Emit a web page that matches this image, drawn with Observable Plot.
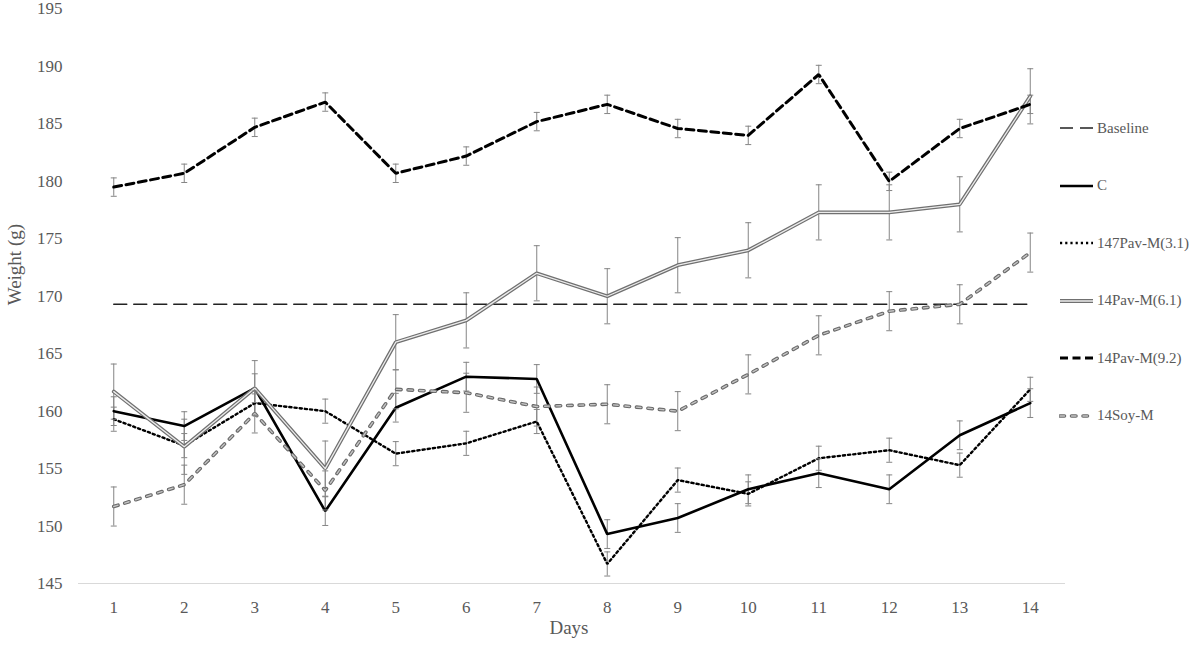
<!DOCTYPE html>
<html>
<head>
<meta charset="utf-8">
<script src="https://cdn.jsdelivr.net/npm/d3@7"></script>
<script src="https://cdn.jsdelivr.net/npm/@observablehq/plot@0.6"></script>
<style>
  html, body { margin: 0; padding: 0; background: #fff; }
  #wrap { position: relative; width: 1192px; height: 645px; font-family: "Liberation Serif", "Times New Roman", serif; }
  #legend { position: absolute; left: 1059px; top: 0; }
  .item { position: absolute; left: 0; display: flex; align-items: center; white-space: nowrap; font-size: 15px; color: #595959; }
  .item svg { display: block; margin-right: 3px; }
</style>
</head>
<body>
<div id="wrap"><div id="chart"></div><div id="legend"></div></div>
<script>
const days = [1,2,3,4,5,6,7,8,9,10,11,12,13,14];
const xTicks = [1,2,3,4,5,6,7,8,9,10,11,12,13,14];
const yTicks = [145,150,155,160,165,170,175,180,185,190,195];

const baseline = [169.3,169.3,169.3,169.3,169.3,169.3,169.3,169.3,169.3,169.3,169.3,169.3,169.3,169.3];
const cVals    = [160.0,158.7,162.0,151.3,160.3,163.0,162.8,149.3,150.7,153.2,154.6,153.2,157.9,160.7];
const pav31    = [159.3,157.0,160.7,160.0,156.3,157.2,159.1,146.7,154.0,152.8,155.9,156.6,155.3,161.9];
const pav61    = [161.7,156.9,162.0,155.0,166.0,167.9,172.0,170.0,172.7,174.0,177.3,177.3,178.0,187.4];
const pav92    = [179.5,180.7,184.7,186.9,180.7,182.2,185.2,186.7,184.6,184.0,189.3,180.0,184.6,186.7];
const soy      = [151.7,153.6,159.8,153.1,161.9,161.6,160.4,160.6,160.0,163.2,166.6,168.7,169.3,173.8];

const errC     = [1.25,1.25,1.25,1.25,1.25,1.25,1.25,1.25,1.25,1.25,1.25,1.25,1.25,1.25];
const err31    = [1.05,1.05,1.05,1.05,1.05,1.05,1.05,1.05,1.05,1.05,1.05,1.05,1.05,1.05];
const err61    = [2.4,2.4,2.4,2.4,2.4,2.4,2.4,2.4,2.4,2.4,2.4,2.4,2.4,2.4];
const err92    = [0.8,0.8,0.8,0.8,0.8,0.8,0.8,0.8,0.8,0.8,0.8,0.8,0.8,0.8];
const errSoy   = [1.7,1.7,1.7,1.7,1.7,1.7,1.7,1.7,1.7,1.7,1.7,1.7,1.7,1.7];

const seriesNames = ["Baseline","C","147Pav-M(3.1)","14Pav-M(6.1)","14Pav-M(9.2)","14Soy-M"];

const toRows = (vals, errs) => days.map((d, i) => ({day: d, v: vals[i], e: errs ? errs[i] : 0}));
const rBase = toRows(baseline);
const rC = toRows(cVals, errC);
const r31 = toRows(pav31, err31);
const r61 = toRows(pav61, err61);
const r92 = toRows(pav92, err92);
const rSoy = toRows(soy, errSoy);
const errRows = [...rC, ...r31, ...r61, ...r92, ...rSoy];

const capSymbol = {
  draw(ctx, size) {
    const r = Math.sqrt(size / Math.PI);
    ctx.moveTo(-r, 0);
    ctx.lineTo(r, 0);
  }
};
const ebColor = "#858585";

const styles = {
  "Baseline": [{stroke: "#222", strokeWidth: 1.5, strokeDasharray: "13,7"}],
  "C": [{stroke: "#000", strokeWidth: 2.6}],
  "147Pav-M(3.1)": [{stroke: "#000", strokeWidth: 2.4, strokeDasharray: "2.2,3"}],
  "14Pav-M(6.1)": [{stroke: "#707070", strokeWidth: 3.8}, {stroke: "#ececec", strokeWidth: 1.3}],
  "14Pav-M(9.2)": [{stroke: "#000", strokeWidth: 3, strokeDasharray: "8,4.5"}],
  "14Soy-M": [{stroke: "#6a6a6a", strokeWidth: 3.6, strokeDasharray: "4.5,7", strokeLinecap: "round"},
              {stroke: "#c4c4c4", strokeWidth: 1.4, strokeDasharray: "4.5,7", strokeLinecap: "round"}]
};
const seriesRows = {
  "Baseline": rBase, "C": rC, "147Pav-M(3.1)": r31, "14Pav-M(6.1)": r61, "14Pav-M(9.2)": r92, "14Soy-M": rSoy
};

const lineMarks = [];
for (const name of seriesNames) {
  for (const st of styles[name]) {
    lineMarks.push(Plot.line(seriesRows[name], {x: "day", y: "v", strokeLinejoin: "miter", ...st}));
  }
}

const chart = Plot.plot({
  width: 1192,
  height: 645,
  marginLeft: 78,
  marginRight: 127,
  marginTop: 8.5,
  marginBottom: 62,
  style: {fontFamily: "'Liberation Serif', 'Times New Roman', serif", background: "#fff"},
  x: {domain: [0.5, 14.5]},
  y: {domain: [145, 195]},
  marks: [
    Plot.ruleY([145], {stroke: "#d9d9d9", strokeWidth: 1.2}),
    Plot.axisY(yTicks, {tickSize: 0, tickPadding: 16, fontSize: 17, fill: "#595959", label: null}),
    Plot.axisX(xTicks, {tickSize: 0, tickPadding: 17, fontSize: 17, fill: "#595959", label: null}),
    Plot.text(["Weight (g)"], {frameAnchor: "left", text: d => d, rotate: -90, dx: -64, dy: 9, fontSize: 19, fill: "#595959"}),
    Plot.text(["Days"], {frameAnchor: "bottom", text: d => d, dy: 50, dx: -3, fontSize: 19, fill: "#595959"}),
    Plot.ruleX(errRows, {x: "day", y1: d => d.v - d.e, y2: d => d.v + d.e, stroke: ebColor, strokeWidth: 1}),
    ...lineMarks,
    Plot.dot(errRows, {x: "day", y: d => d.v + d.e, symbol: capSymbol, r: 3, stroke: ebColor, strokeWidth: 1, fill: "none"}),
    Plot.dot(errRows, {x: "day", y: d => d.v - d.e, symbol: capSymbol, r: 3, stroke: ebColor, strokeWidth: 1, fill: "none"})
  ]
});
document.getElementById("chart").appendChild(chart);

// Legend
const legendTops = [128, 185.5, 243, 300.5, 358, 415.5];
const legend = document.getElementById("legend");
seriesNames.forEach((name, i) => {
  const item = document.createElement("div");
  item.className = "item";
  item.style.top = (legendTops[i] - 10) + "px";
  item.style.height = "20px";
  const ns = "http://www.w3.org/2000/svg";
  const svg = document.createElementNS(ns, "svg");
  svg.setAttribute("width", 35);
  svg.setAttribute("height", 10);
  for (const st of styles[name]) {
    const ln = document.createElementNS(ns, "line");
    ln.setAttribute("x1", 1); ln.setAttribute("x2", 34);
    ln.setAttribute("y1", 5); ln.setAttribute("y2", 5);
    ln.setAttribute("stroke", st.stroke);
    ln.setAttribute("stroke-width", st.strokeWidth);
    if (st.strokeDasharray) ln.setAttribute("stroke-dasharray", st.strokeDasharray);
    if (st.strokeLinecap) ln.setAttribute("stroke-linecap", st.strokeLinecap);
    svg.appendChild(ln);
  }
  item.appendChild(svg);
  const label = document.createElement("span");
  label.textContent = name;
  item.appendChild(label);
  legend.appendChild(item);
});
</script>
</body>
</html>
